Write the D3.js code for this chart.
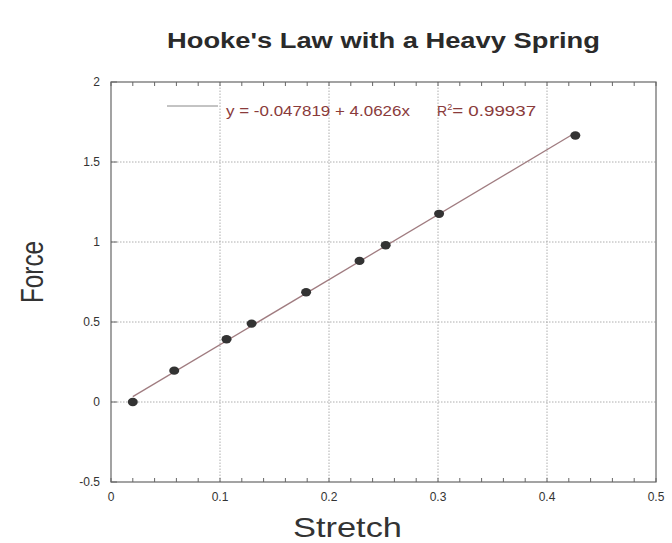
<!DOCTYPE html>
<html>
<head>
<meta charset="utf-8">
<script src="https://cdnjs.cloudflare.com/ajax/libs/d3/7.8.5/d3.min.js"></script>
<style>
body { margin: 0; background: #fff; }
text { font-family: "Liberation Sans", Arial, sans-serif; }
</style>
</head>
<body>
<div class="c_chart"></div>
<script>
/* data */
const stretch = [0.020, 0.058, 0.106, 0.129, 0.179, 0.228, 0.252, 0.301, 0.426];
const force = [0, 0.196, 0.392, 0.49, 0.686, 0.882, 0.98, 1.176, 1.666];
const fit = {a: -0.047819, b: 4.0626, r2: 0.99937};
const xTicks = [0, 0.1, 0.2, 0.3, 0.4, 0.5];
const yTicks = [-0.5, 0, 0.5, 1, 1.5, 2];

const width = 672, height = 543;
const margin = {top: 82, right: 16, bottom: 61, left: 111};

let svg = d3.select(".c_chart").append("svg")
	.attr("width", width)
	.attr("height", height);

const x = d3.scaleLinear().domain([0, 0.5]).range([margin.left, width - margin.right]);
const y = d3.scaleLinear().domain([-0.5, 2]).range([height - margin.bottom, margin.top]);

/* grid */
const grid = svg.append("g");
grid.selectAll(".gx").data(xTicks.slice(1, -1)).enter().append("line")
	.attr("x1", d => x(d)).attr("x2", d => x(d))
	.attr("y1", y(-0.5)).attr("y2", y(2))
	.attr("stroke", "#999").attr("stroke-width", 0.8).attr("stroke-dasharray", "1.5,1.5");
grid.selectAll(".gy").data(yTicks.slice(1, -1)).enter().append("line")
	.attr("x1", x(0)).attr("x2", x(0.5))
	.attr("y1", d => y(d)).attr("y2", d => y(d))
	.attr("stroke", "#999").attr("stroke-width", 0.8).attr("stroke-dasharray", "1.5,1.5");

/* frame */
svg.append("rect")
	.attr("x", x(0)).attr("y", y(2))
	.attr("width", x(0.5) - x(0)).attr("height", y(-0.5) - y(2))
	.attr("fill", "none").attr("stroke", "#666").attr("stroke-width", 1.2);

/* minor ticks on top and bottom, inside */
const minor = d3.range(0, 0.5001, 0.02);
svg.append("g").selectAll("line").data(minor).enter().append("line")
	.attr("x1", d => x(d)).attr("x2", d => x(d))
	.attr("y1", y(-0.5)).attr("y2", y(-0.5) - 4)
	.attr("stroke", "#666");
svg.append("g").selectAll("line").data(minor).enter().append("line")
	.attr("x1", d => x(d)).attr("x2", d => x(d))
	.attr("y1", y(2)).attr("y2", y(2) + 4)
	.attr("stroke", "#666");
/* major ticks on y axis */
svg.append("g").selectAll("line").data(yTicks).enter().append("line")
	.attr("x1", x(0)).attr("x2", x(0) + 6)
	.attr("y1", d => y(d)).attr("y2", d => y(d))
	.attr("stroke", "#666");

/* tick labels */
svg.append("g").selectAll("text").data(xTicks).enter().append("text")
	.attr("x", d => x(d)).attr("y", y(-0.5) + 19)
	.attr("text-anchor", "middle").attr("font-size", 12).attr("fill", "#333")
	.text(d => d);
svg.append("g").selectAll("text").data(yTicks).enter().append("text")
	.attr("x", x(0) - 11).attr("y", d => y(d) + 4)
	.attr("text-anchor", "end").attr("font-size", 12).attr("fill", "#333")
	.text(d => d);

/* fit line */
const xr = d3.extent(stretch);
svg.append("line")
	.attr("x1", x(xr[0])).attr("y1", y(fit.a + fit.b * xr[0]))
	.attr("x2", x(xr[1])).attr("y2", y(fit.a + fit.b * xr[1]))
	.attr("stroke", "#a07c80").attr("stroke-width", 1.3);

/* points */
svg.append("g").selectAll("ellipse").data(stretch).enter().append("ellipse")
	.attr("cx", d => x(d)).attr("cy", (d, i) => y(force[i]))
	.attr("rx", 5).attr("ry", 4.2)
	.attr("fill", "#333");

/* legend */
svg.append("line")
	.attr("x1", 167).attr("x2", 218).attr("y1", 106).attr("y2", 106)
	.attr("stroke", "#888").attr("stroke-width", 1);
const leg = svg.append("text")
	.attr("y", 116)
	.attr("font-size", 14).attr("fill", "#8a3b3b");
leg.append("tspan").attr("x", 226)
	.attr("textLength", 184).attr("lengthAdjust", "spacingAndGlyphs")
	.text("y = " + fit.a + " + " + fit.b + "x");
leg.append("tspan").attr("x", 437).text("R");
leg.append("tspan").attr("dy", -6).attr("font-size", 9).text("2");
leg.append("tspan").attr("dy", 6)
	.attr("textLength", 84).attr("lengthAdjust", "spacingAndGlyphs")
	.text("= " + fit.r2);

/* titles */
svg.append("text")
	.attr("x", 167).attr("y", 48)
	.attr("font-size", 22).attr("font-weight", "bold").attr("fill", "#2a2a2a")
	.attr("textLength", 433).attr("lengthAdjust", "spacingAndGlyphs")
	.text("Hooke's Law with a Heavy Spring");
svg.append("text")
	.attr("x", 293).attr("y", 537)
	.attr("font-size", 28).attr("fill", "#333")
	.attr("textLength", 109).attr("lengthAdjust", "spacingAndGlyphs")
	.text("Stretch");
svg.append("text")
	.attr("transform", "translate(43,303) rotate(-90)")
	.attr("font-size", 31).attr("fill", "#333")
	.attr("textLength", 62).attr("lengthAdjust", "spacingAndGlyphs")
	.text("Force");
</script>
</body>
</html>
